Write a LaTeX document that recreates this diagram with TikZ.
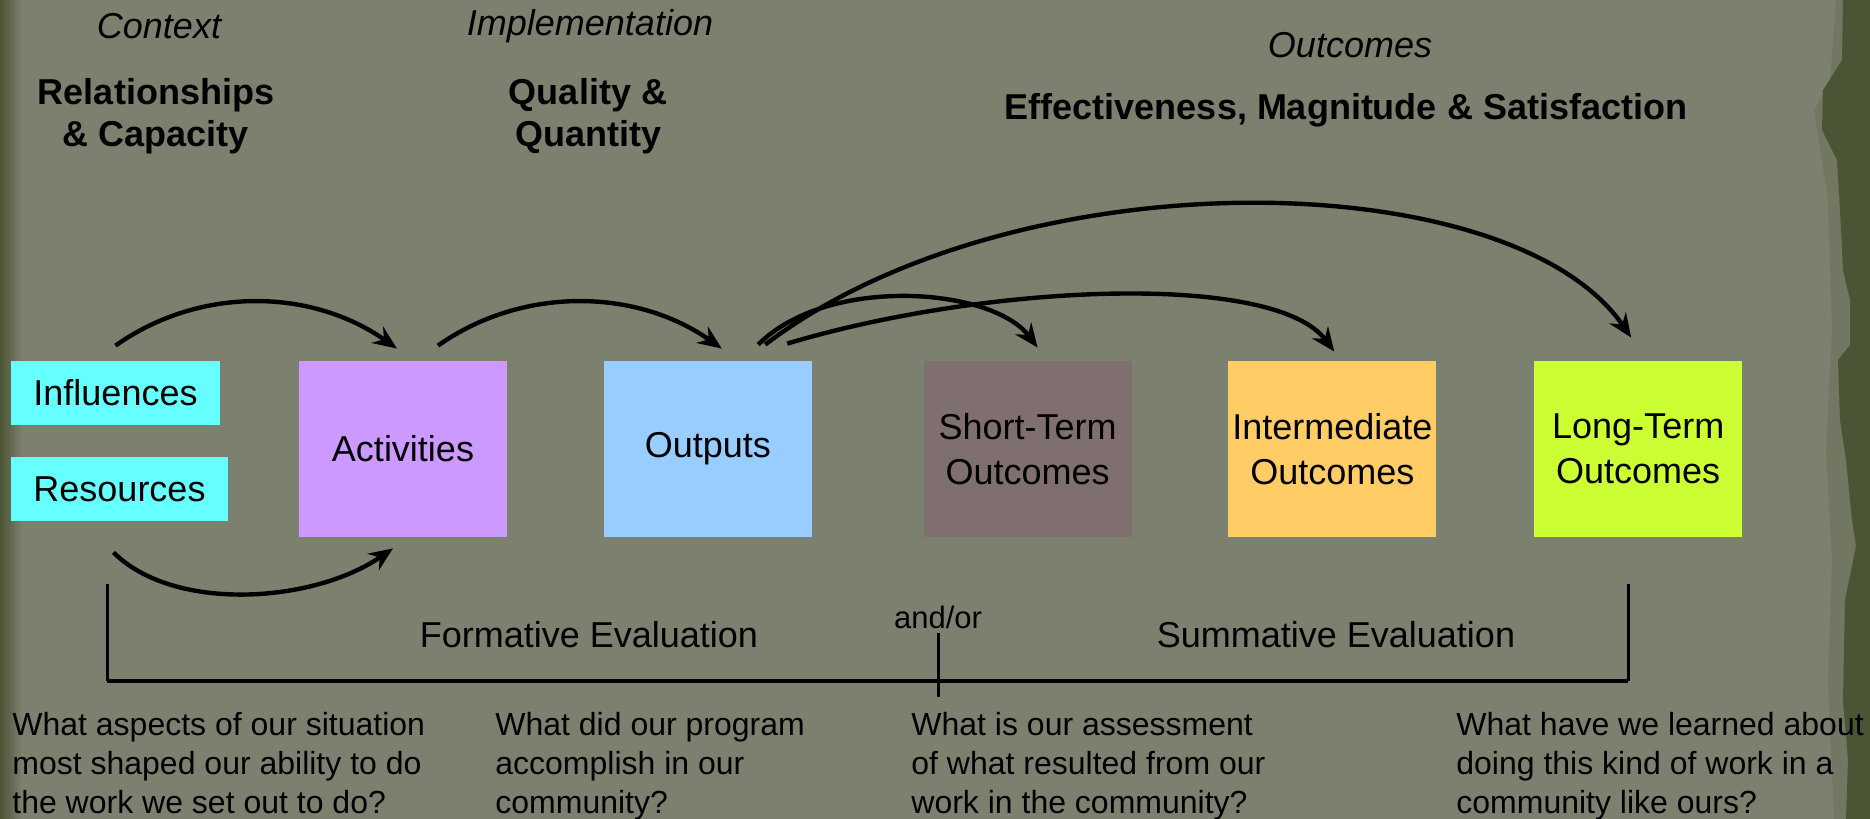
\documentclass[tikz,border=0pt]{standalone}
\usepackage{fontspec}
\setmainfont{Liberation Sans}
\usepackage{tikz}
\usetikzlibrary{arrows.meta,positioning}
\definecolor{bgolive}{HTML}{7C816F}
\definecolor{midolive}{HTML}{727762}
\definecolor{edgeolive}{HTML}{4C5436}
\definecolor{infcyan}{HTML}{66FFFF}
\definecolor{actlilac}{HTML}{CC99FF}
\definecolor{outblue}{HTML}{99CCFF}
\definecolor{stmauve}{HTML}{7F6F6F}
\definecolor{imorange}{HTML}{FFCC66}
\definecolor{ltlime}{HTML}{CCFF33}
\tikzset{
  stage/.style={minimum width=104pt, minimum height=88pt, inner sep=0pt, align=center, font=\fontsize{18}{22.5}\selectfont},
  srcbox/.style={minimum height=32pt, inner sep=0pt, align=center, font=\fontsize{18}{22}\selectfont},
  hdr/.style={font=\fontsize{18}{21}\selectfont\bfseries, align=center},
  phase/.style={font=\fontsize{18}{21}\selectfont\itshape},
  evl/.style={font=\fontsize{18}{21}\selectfont},
  qtext/.style={font=\fontsize{16}{19.5}\selectfont, align=left, anchor=north west, inner sep=0pt},
  arr/.style={-{Stealth[length=12pt,width=10pt,inset=4pt]}, line width=2.2pt},
  brk/.style={line width=1.5pt}
}

\begin{document}
\begin{tikzpicture}[x=0.5pt, y=-0.5pt]
\useasboundingbox (0,0) rectangle (1870,819);
% backdrop
\fill[bgolive] (0,0) rectangle (1870,819);
\fill[left color=edgeolive, right color=bgolive] (0,0) rectangle (22,819);
\fill[midolive] (1870,0) -- (1836,0) -- (1830,80) -- (1814,110) -- (1828,200) -- (1832,330) -- (1826,450) -- (1832,560) -- (1828,680) -- (1834,819) -- (1870,819) -- cycle;
\fill[edgeolive] (1870,0) -- (1843,0) -- (1842,60) -- (1823,90) -- (1822,130) -- (1837,160) -- (1840,210) -- (1843,270) -- (1850,300) -- (1850,345) -- (1838,360) -- (1840,420) -- (1846,460) -- (1852,520) -- (1856,546) -- (1845,600) -- (1843,700) -- (1848,760) -- (1846,819) -- (1870,819) -- cycle;

% headers
\node[phase] (ctx) at (159,26) {Context};
\node[hdr] (rel) at (156,116) {Relationships\\\& Capacity};
\node[phase] (impl) at (590,26) {Implementation};
\node[hdr] (qq) at (588,116) {Quality \&\\Quantity};
\node[phase] (outc) at (1350,45) {Outcomes};
\node[hdr] (ems) at (1346,110) {Effectiveness, Magnitude \& Satisfaction};

% boxes
\node[srcbox, fill=infcyan, minimum width=104.5pt] (infl) at (115.5,393) {Influences};
\node[srcbox, fill=infcyan, minimum width=108.5pt] (res) at (119.5,489) {Resources};
\node[stage, fill=actlilac] (act) at (403,449) {Activities};
\node[stage, fill=outblue, right=48pt of act] (outp) {Outputs};
\node[stage, fill=stmauve, right=55.5pt of outp] (st) {Short-Term\\Outcomes};
\node[stage, fill=imorange, right=48pt of st] (im) {Intermediate\\Outcomes};
\node[stage, fill=ltlime, right=48.5pt of im] (lt) {Long-Term\\Outcomes};

% arrows
\draw[arr] ([yshift=7.5pt]infl.north) .. controls +(85,-60) and +(-85,-60) .. ([xshift=-3pt,yshift=6pt]act.north);
\draw[arr] ([xshift=-3pt,yshift=-15.5pt]res.south) .. controls +(60,60) and +(-80,55) .. ([xshift=-5pt,yshift=-5.5pt]act.south);
\draw[arr] ([xshift=17.5pt,yshift=7.5pt]act.north) .. controls +(85,-60) and +(-85,-60) .. ([xshift=7pt,yshift=6pt]outp.north);
\draw[arr] ([xshift=-27pt,yshift=8pt]outp.north east) .. controls +(70,-70) and +(-45,-60) .. ([xshift=5pt,yshift=6.5pt]st.north);
\draw[arr] ([xshift=-12.5pt,yshift=8.5pt]outp.north east) .. controls +(200,-60) and +(-60,-80) .. ([xshift=1pt,yshift=4.5pt]im.north);
\draw[arr] ([xshift=-23.5pt,yshift=8pt]outp.north east) .. controls +(250,-190) and +(-120,-175) .. ([xshift=-3.5pt,yshift=11.5pt]lt.north);

% evaluation bracket
\draw[brk] (107,584) -- (107,681);
\draw[brk] (1628,584) -- (1628,681);
\draw[line width=2pt] (107,681) -- (1628,681);
\draw[brk] (938,633) -- (938,697);
\node[evl] (form) at (589,635) {Formative Evaluation};
\node[evl] (summ) at (1336,635) {Summative Evaluation};
\node[font=\fontsize{15.5}{18}\selectfont] (andor) at (938,617) {and/or};

% questions
\node[qtext] (q1) at (12,712) {What aspects of our situation\\most shaped our ability to do\\the work we set out to do?};
\node[qtext] (q2) at (495,712) {What did our program\\accomplish in our\\community?};
\node[qtext] (q3) at (911,712) {What is our assessment\\of what resulted from our\\work in the community?};
\node[qtext] (q4) at (1456,712) {What have we learned about\\doing this kind of work in a\\community like ours?};
\end{tikzpicture}
\end{document}
